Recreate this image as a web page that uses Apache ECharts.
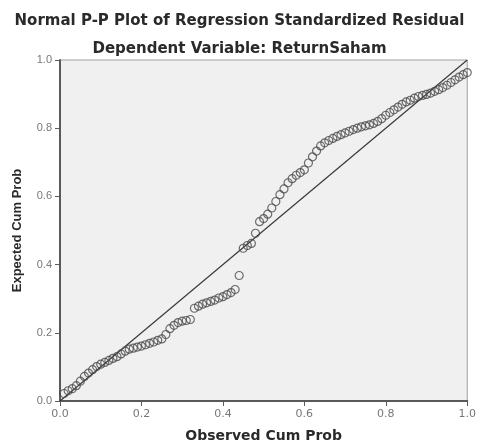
<!DOCTYPE html>
<html lang="en">
<head>
<meta charset="UTF-8">
<title>Normal P-P Plot</title>
<script src="https://cdn.jsdelivr.net/npm/echarts@6/dist/echarts.min.js"></script>
<style>
html, body { margin: 0; padding: 0; background: #fff; }
#chart { width: 479px; height: 448px; }
</style>
</head>
<body>
<div id="chart"></div>
<script>
// observed cumulative probability (x) and expected cumulative probability (y)
const observed = [
0.01,0.02,0.03,0.04,0.05,0.06,0.07,0.08,0.09,0.10,
0.11,0.12,0.13,0.14,0.15,0.16,0.17,0.18,0.19,0.20,
0.21,0.22,0.23,0.24,0.25,0.26,0.27,0.28,0.29,0.30,
0.31,0.32,0.33,0.34,0.35,0.36,0.37,0.38,0.39,0.40,
0.41,0.42,0.43,0.44,0.45,0.46,0.47,0.48,0.49,0.50,
0.51,0.52,0.53,0.54,0.55,0.56,0.57,0.58,0.59,0.60,
0.61,0.62,0.63,0.64,0.65,0.66,0.67,0.68,0.69,0.70,
0.71,0.72,0.73,0.74,0.75,0.76,0.77,0.78,0.79,0.80,
0.81,0.82,0.83,0.84,0.85,0.86,0.87,0.88,0.89,0.90,
0.91,0.92,0.93,0.94,0.95,0.96,0.97,0.98,0.99,1.00
];
const expected = [
0.022,0.030,0.036,0.045,0.058,0.072,0.082,0.092,0.101,0.108,
0.113,0.119,0.125,0.130,0.138,0.146,0.152,0.155,0.158,0.161,
0.165,0.169,0.173,0.178,0.182,0.195,0.212,0.222,0.230,0.234,
0.236,0.239,0.272,0.278,0.284,0.288,0.292,0.296,0.302,0.306,
0.312,0.318,0.327,0.368,0.448,0.456,0.462,0.492,0.526,0.535,
0.548,0.566,0.585,0.605,0.622,0.640,0.652,0.662,0.670,0.678,
0.698,0.716,0.733,0.748,0.757,0.764,0.770,0.776,0.781,0.786,
0.791,0.796,0.800,0.804,0.807,0.810,0.814,0.820,0.828,0.838,
0.846,0.854,0.862,0.870,0.877,0.882,0.888,0.893,0.896,0.899,
0.903,0.908,0.913,0.919,0.926,0.934,0.942,0.950,0.957,0.963
];
// reference diagonal
const diagX = [0, 1];
const diagY = [0, 1];
const xTickLabels = ['0.0', '0.2', '0.4', '0.6', '0.8', '1.0'];
const yTickLabels = ['0.0', '0.2', '0.4', '0.6', '0.8', '1.0'];

const points = observed.map((x, i) => [x, expected[i]]);
const diagonal = diagX.map((x, i) => [x, diagY[i]]);
const tickLabel = (labels) => (v) => labels[Math.round(v / 0.2)];

const chart = echarts.init(document.getElementById('chart'));
chart.setOption({
animation: false,
backgroundColor: '#ffffff',
title: [{
text: 'Normal P-P Plot of Regression Standardized Residual',
left: 'center',
top: 9,
textStyle: { fontFamily: 'DejaVu Sans', fontWeight: 'bold', fontSize: 15, color: '#2a2a2a' }
}, {
text: 'Dependent Variable: ReturnSaham',
left: 'center',
top: 37,
textStyle: { fontFamily: 'DejaVu Sans', fontWeight: 'bold', fontSize: 15, color: '#2a2a2a' }
}],
grid: {
left: 60,
right: 6,
top: 60,
bottom: 40,
show: true,
backgroundColor: '#f0f0f0',
borderColor: '#a0a0a0',
borderWidth: 1
},
xAxis: {
type: 'value',
min: 0,
max: 1,
interval: 0.2,
name: 'Observed Cum Prob',
nameLocation: 'middle',
nameGap: 28,
nameTextStyle: { fontFamily: 'DejaVu Sans', fontWeight: 'bold', fontSize: 14, color: '#2a2a2a' },
axisLine: { show: true, onZero: false, lineStyle: { color: '#5a5a5a', width: 2 } },
axisTick: { show: true, length: 5, lineStyle: { color: '#5a5a5a' } },
axisLabel: { formatter: tickLabel(xTickLabels), fontFamily: 'DejaVu Sans', fontSize: 11, color: '#777', margin: 8 },
splitLine: { show: false }
},
yAxis: {
type: 'value',
min: 0,
max: 1,
interval: 0.2,
name: 'Expected Cum Prob',
nameLocation: 'middle',
nameGap: 36,
nameTextStyle: { fontFamily: 'Liberation Sans', fontWeight: 'bold', fontSize: 13, color: '#2a2a2a' },
axisLine: { show: true, onZero: false, lineStyle: { color: '#5a5a5a', width: 2 } },
axisTick: { show: true, length: 5, lineStyle: { color: '#5a5a5a' } },
axisLabel: { formatter: tickLabel(yTickLabels), fontFamily: 'Liberation Sans', fontSize: 11, color: '#777', margin: 8 },
splitLine: { show: false }
},
series: [{
type: 'line',
data: diagonal,
symbol: 'none',
lineStyle: { color: '#3a3a3a', width: 1.2 },
z: 3
}, {
type: 'scatter',
data: points,
symbol: 'circle',
symbolSize: 8,
itemStyle: { color: 'rgba(0,0,0,0)', borderColor: '#4a4a4a', borderWidth: 1.2 },
z: 4
}]
});
</script>
</body>
</html>
